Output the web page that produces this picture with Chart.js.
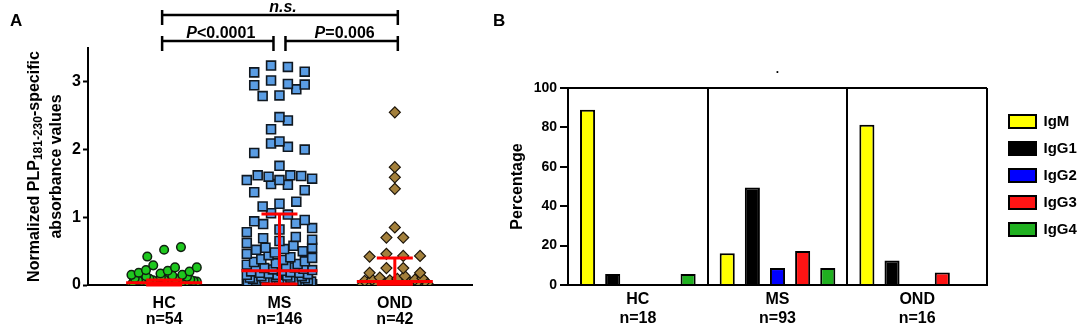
<!DOCTYPE html>
<html>
<head>
<meta charset="utf-8">
<script src="https://cdn.jsdelivr.net/npm/chart.js@4.4.1/dist/chart.umd.min.js"></script>
<style>
  html, body { margin: 0; padding: 0; background: #fff; }
  #wrap { position: relative; width: 1084px; height: 329px; overflow: hidden; }
  #chartA { position: absolute; left: 0; top: 0; }
  #chartB { position: absolute; left: 480px; top: 0; }
</style>
</head>
<body>
<div id="wrap">
  <canvas id="chartA" width="480" height="329"></canvas>
  <canvas id="chartB" width="604" height="329"></canvas>
</div>
<script>
const FONT = 'Arial, "Liberation Sans", Helvetica, sans-serif';

// ---- Panel A: normalized PLP181-230 absorbance per subject ----
const GROUPS_A = ['HC', 'MS', 'OND'];
const COUNTS_A = [54, 146, 42];
const HC_VALUES = [
  0.56, 0.52, 0.42, 0.29, 0.26, 0.26, 0.22, 0.21, 0.20, 0.18, 0.17, 0.15, 0.15, 0.14, 0.13, 0.12,
  0.11, 0.10, 0.09, 0.09, 0.08, 0.08, 0.07, 0.07, 0.07, 0.06, 0.06,
  0.06, 0.05, 0.05, 0.05, 0.05, 0.04, 0.04, 0.04, 0.04, 0.03,
  0.03, 0.03, 0.03, 0.03, 0.02, 0.02, 0.02, 0.02, 0.02, 0.01,
  0.01, 0.01, 0.01, 0.01, 0.00, 0.00, 0.00,
];
const MS_VALUES = [
  3.24, 3.22, 3.15, 3.14, 3.02, 2.97, 2.96, 2.95, 2.89, 2.80,
  2.79, 2.48, 2.43, 2.30, 2.12, 2.09, 2.04, 2.00, 1.95, 1.76,
  1.62, 1.62, 1.61, 1.60, 1.57, 1.55, 1.55, 1.49, 1.48, 1.40,
  1.37, 1.23, 1.20, 1.16, 1.06, 1.04,
  0.96, 0.94, 0.91, 0.90, 0.84, 0.82, 0.78, 0.71, 0.69, 0.67,
  0.65, 0.62, 0.58, 0.55, 0.55, 0.53, 0.52, 0.50, 0.48, 0.46,
  0.44, 0.41, 0.40, 0.38, 0.37, 0.35, 0.34, 0.32, 0.31, 0.30,
  0.28, 0.27, 0.26, 0.25, 0.24, 0.23, 0.22,
  0.21, 0.20, 0.19, 0.18, 0.18, 0.17, 0.16, 0.15, 0.15, 0.14,
  0.13, 0.13, 0.12, 0.11, 0.11, 0.10, 0.10, 0.09, 0.09, 0.08,
  0.08, 0.07, 0.07, 0.06, 0.06, 0.05, 0.05, 0.05, 0.04, 0.04,
  0.04, 0.03, 0.03, 0.03, 0.03, 0.02, 0.02,
  0.02, 0.02, 0.02, 0.02, 0.02, 0.02, 0.01, 0.01, 0.01, 0.01,
  0.01, 0.01, 0.01, 0.01, 0.01, 0.01, 0.01, 0.01, 0.01, 0.01,
  0.00, 0.00, 0.00, 0.00, 0.00, 0.00, 0.00, 0.00, 0.00, 0.00,
  0.00, 0.00, 0.00, 0.00, 0.00, 0.00,
];
const OND_VALUES = [
  2.55, 1.74, 1.59, 1.42, 0.85, 0.70, 0.70, 0.46, 0.43, 0.43, 0.42,
  0.25, 0.25, 0.18, 0.18, 0.13,
  0.11, 0.10, 0.09, 0.08, 0.08, 0.07, 0.06, 0.06, 0.05, 0.05, 0.05, 0.04, 0.04,
  0.03, 0.03, 0.03, 0.02, 0.02, 0.02, 0.01, 0.01, 0.01, 0.00, 0.00, 0.00, 0.00,
];
// median with interquartile range (red bars)
const MEDIAN_A = [0.034, 0.21, 0.05];
const Q1_A = [0.0, 0.015, 0.01];
const Q3_A = [0.074, 1.05, 0.40];
const Y_TICKS_A = [0, 1, 2, 3];
const Y_TITLE_A = ['Normalized PLP', '181-230', '-specific'];
const Y_TITLE_A2 = 'absorbance values';
// significance brackets
const BRACKET_FROM = [1, 1, 2];
const BRACKET_TO = [3, 2, 3];
const BRACKET_LEVEL = [1, 0, 0];
const BRACKET_LABELS = ['n.s.', 'P<0.0001', 'P=0.006'];
const BRACKET_ITALIC = [4, 1, 1];

// ---- Panel B: isotype distribution (%) ----
const GROUPS_B = ['HC', 'MS', 'OND'];
const COUNTS_B = [18, 93, 16];
const ISOTYPES = ['IgM', 'IgG1', 'IgG2', 'IgG3', 'IgG4'];
const IGM = [88.9, 16.1, 81.3];
const IGG1 = [5.6, 49.5, 12.5];
const IGG2 = [0, 8.6, 0];
const IGG3 = [0, 17.2, 6.3];
const IGG4 = [5.6, 8.6, 0];
const ISOTYPE_COLOURS = ['#ffff00', '#000000', '#0000ff', '#ff1414', '#20b020'];

// plot box of panel A (canvas px), used for layout and for the dot spreading
const A_LEFT = 88, A_RIGHT = 476, A_TOP = 48, A_BOTTOM = 285;
const X_MIN_A = 0.34, X_MAX_A = 3.67, Y_MAX_A = 3.5;
const PX_PER_X = (A_RIGHT - A_LEFT) / (X_MAX_A - X_MIN_A);
const PX_PER_Y = (A_BOTTOM - A_TOP) / Y_MAX_A;
const SWARM_GAP = 17, SWARM_HALF = 33;

Chart.defaults.font.family = FONT;
Chart.defaults.color = '#000';

function gcd(a, b) { return b ? gcd(b, a % b) : a; }

// Prism-like dot spread: values close in y share a row, row spread around the group centre
function swarm(values, group, size) {
  const rowH = size / PX_PER_Y;
  const sorted = [...values].sort((a, b) => a - b);
  const rows = [];
  for (const v of sorted) {
    const row = rows[rows.length - 1];
    if (row && v - row[0] <= rowH) row.push(v); else rows.push([v]);
  }
  const pts = [];
  for (const row of rows) {
    const n = row.length;
    const gap = n > 1 ? Math.min(SWARM_GAP, 2 * SWARM_HALF / (n - 1)) : 0;
    let k = Math.max(1, Math.round(n * 0.382));
    while (gcd(k, n) !== 1) k++;
    row.forEach((v, i) => {
      const slot = (i * k) % n;
      pts.push({ x: group + ((slot - (n - 1) / 2) * gap) / PX_PER_X, y: v });
    });
  }
  return pts;
}

const panelA = {
  id: 'panelA',
  afterDatasetsDraw(chart) {
    const { ctx, scales: { x, y } } = chart;
    ctx.save();
    ctx.strokeStyle = '#ff0000';
    ctx.lineWidth = 3;
    const hline = (cx, v, half) => {
      const py = y.getPixelForValue(v);
      ctx.beginPath(); ctx.moveTo(cx - half, py); ctx.lineTo(cx + half, py); ctx.stroke();
    };
    GROUPS_A.forEach((g, i) => {
      const cx = x.getPixelForValue(i + 1);
      hline(cx, Q1_A[i], 18);
      hline(cx, Q3_A[i], 18);
      hline(cx, MEDIAN_A[i], 38);
      ctx.beginPath();
      ctx.moveTo(cx, y.getPixelForValue(Q1_A[i]));
      ctx.lineTo(cx, y.getPixelForValue(Q3_A[i]));
      ctx.stroke();
    });
    ctx.restore();
  },
  afterDraw(chart) {
    const { ctx, chartArea: area, scales: { x } } = chart;
    ctx.save();
    ctx.fillStyle = '#000';
    // panel letter
    ctx.font = `bold 17px ${FONT}`;
    ctx.textBaseline = 'middle';
    ctx.textAlign = 'left';
    ctx.fillText('A', 10, 21);

    // y title, two lines, with subscript
    const cy = (area.top + area.bottom) / 2;
    const big = `bold 16px ${FONT}`, small = `bold 12px ${FONT}`;
    const fonts = [big, small, big];
    const shifts = [0, 4, 0];
    ctx.translate(35, cy);
    ctx.rotate(-Math.PI / 2);
    let total = 0;
    Y_TITLE_A.forEach((t, i) => { ctx.font = fonts[i]; total += ctx.measureText(t).width; });
    let tx = -total / 2;
    Y_TITLE_A.forEach((t, i) => {
      ctx.font = fonts[i];
      ctx.fillText(t, tx, shifts[i]);
      tx += ctx.measureText(t).width;
    });
    ctx.font = big;
    ctx.textAlign = 'center';
    ctx.fillText(Y_TITLE_A2, 0, 22);
    ctx.setTransform(1, 0, 0, 1, 0, 0);

    // significance brackets
    ctx.strokeStyle = '#000';
    ctx.lineWidth = 2.5;
    BRACKET_LABELS.forEach((label, i) => {
      const lvl = BRACKET_LEVEL[i];
      const shared = (v) => BRACKET_LEVEL.some((l, j) => j !== i && l === lvl &&
        (BRACKET_FROM[j] === v || BRACKET_TO[j] === v));
      const x0 = x.getPixelForValue(BRACKET_FROM[i]) + (shared(BRACKET_FROM[i]) ? 6 : -2);
      const x1 = x.getPixelForValue(BRACKET_TO[i]) - (shared(BRACKET_TO[i]) ? 6 : -3);
      const py = area.top - 7 - lvl * 26;
      ctx.beginPath();
      ctx.moveTo(x0, py); ctx.lineTo(x1, py);
      ctx.moveTo(x0, py - 5); ctx.lineTo(x0, py + 10);
      ctx.moveTo(x1, py - 5); ctx.lineTo(x1, py + 10);
      ctx.stroke();
      const it = label.slice(0, BRACKET_ITALIC[i]);
      const rest = label.slice(BRACKET_ITALIC[i]);
      const fIt = `italic bold 16px ${FONT}`, fRg = `bold 16px ${FONT}`;
      ctx.font = fIt; const wIt = ctx.measureText(it).width;
      ctx.font = fRg; const wRg = ctx.measureText(rest).width;
      const lx = (x0 + x1) / 2 + 3 - (wIt + wRg) / 2;
      ctx.textAlign = 'left';
      ctx.textBaseline = 'middle';
      ctx.font = fIt; ctx.fillText(it, lx, py - 7);
      ctx.font = fRg; ctx.fillText(rest, lx + wIt, py - 7);
    });
    ctx.restore();
  },
};

new Chart(document.getElementById('chartA'), {
  type: 'scatter',
  data: {
    datasets: [
      { label: 'HC', data: swarm(HC_VALUES, 1, 10), pointStyle: 'circle', pointRadius: 4.3,
        pointHoverRadius: 4.3, borderWidth: 1.5, backgroundColor: '#1ec81e', borderColor: '#102010' },
      { label: 'MS', data: swarm(MS_VALUES, 2, 10), pointStyle: 'rect', pointRadius: 6.3,
        pointHoverRadius: 6.3, borderWidth: 1.6, backgroundColor: '#5a9de4', borderColor: '#101820' },
      { label: 'OND', data: swarm(OND_VALUES, 3, 10), pointStyle: 'rectRot', pointRadius: 5.5,
        pointHoverRadius: 5.5, borderWidth: 1.2, backgroundColor: '#a3803c', borderColor: '#1c1408' },
    ],
  },
  options: {
    responsive: false,
    animation: false,
    layout: { padding: { top: A_TOP, right: 480 - A_RIGHT, left: 0, bottom: 0 } },
    plugins: { legend: { display: false }, tooltip: { enabled: false } },
    scales: {
      x: {
        type: 'linear',
        min: X_MIN_A,
        max: X_MAX_A,
        afterBuildTicks: (s) => { s.ticks = GROUPS_A.map((g, i) => ({ value: i + 1 })); },
        afterFit: (s) => { s.height = 329 - A_BOTTOM; },
        ticks: {
          autoSkip: false,
          maxRotation: 0,
          padding: 11,
          font: { size: 16, weight: 'bold', lineHeight: 1.0 },
          callback: (v) => {
            const i = Math.round(v) - 1;
            return [GROUPS_A[i], 'n=' + COUNTS_A[i]];
          },
        },
        grid: { display: false, drawTicks: false },
        border: { color: '#000', width: 2 },
      },
      y: {
        min: 0,
        max: Y_MAX_A,
        afterBuildTicks: (s) => { s.ticks = Y_TICKS_A.map(v => ({ value: v })); },
        afterFit: (s) => { s.width = A_LEFT; },
        ticks: { padding: 2, font: { size: 16, weight: 'bold' } },
        grid: { drawOnChartArea: false, tickLength: 5, tickColor: '#000', tickWidth: 2 },
        border: { color: '#000', width: 2 },
      },
    },
  },
  plugins: [panelA],
});

// ---- Panel B ----
const B_LEFT = 88, B_RIGHT = 507, B_BOTTOM = 285;
const LEGEND_W_B = 604 - B_RIGHT;

const panelB = {
  id: 'panelB',
  beforeLayout(chart) {
    const lg = chart.legend;
    if (lg && !lg.fixedWidth) {
      const fit = lg.fit.bind(lg);
      lg.fit = () => { fit(); lg.width = LEGEND_W_B; };
      lg.fixedWidth = true;
    }
  },
  afterLayout(chart) {
    chart.legend.left = chart.chartArea.right + 10;
    chart.legend.top = 102;
  },
  afterDraw(chart) {
    const { ctx } = chart;
    ctx.save();
    ctx.fillStyle = '#000';
    ctx.font = `bold 17px ${FONT}`;
    ctx.textBaseline = 'middle';
    ctx.textAlign = 'left';
    ctx.fillText('B', 13, 21);
    ctx.restore();
  },
};

new Chart(document.getElementById('chartB'), {
  type: 'bar',
  data: {
    labels: GROUPS_B.map((g, i) => [g, 'n=' + COUNTS_B[i]]),
    datasets: [IGM, IGG1, IGG2, IGG3, IGG4].map((vals, k) => ({
      label: ISOTYPES[k],
      data: vals,
      backgroundColor: ISOTYPE_COLOURS[k],
      borderColor: '#000',
      borderWidth: 2,
      categoryPercentage: 0.9,
      barPercentage: 0.6,
    })),
  },
  options: {
    responsive: false,
    animation: false,
    layout: { padding: 0 },
    plugins: {
      tooltip: { enabled: false },
      title: {
        display: true,
        fullSize: false,
        text: '.',
        font: { size: 12, weight: 'bold', lineHeight: 1.2 },
        padding: { top: 62, bottom: 11.6 },
      },
      legend: {
        position: 'right',
        align: 'start',
        labels: {
          boxWidth: 27,
          boxHeight: 13,
          padding: 12,
          color: '#000',
          font: { size: 15, weight: 'bold' },
        },
      },
    },
    scales: {
      x: {
        afterFit: (s) => { s.height = 329 - B_BOTTOM; },
        ticks: { padding: 5, maxRotation: 0, autoSkip: false, font: { size: 16, weight: 'bold', lineHeight: 1.19 } },
        grid: { offset: true, color: '#000', lineWidth: 2, drawTicks: false },
        border: { color: '#000', width: 2 },
      },
      y: {
        min: 0,
        max: 100,
        afterFit: (s) => { s.width = B_LEFT; },
        ticks: { stepSize: 20, padding: 3, font: { size: 14, weight: 'bold' } },
        grid: {
          color: (c) => (c.tick && c.tick.value === 100 ? '#000' : 'rgba(0,0,0,0)'),
          lineWidth: 2,
          tickColor: '#000',
          tickWidth: 2,
          tickLength: 8,
        },
        border: { color: '#000', width: 2 },
        title: { display: true, text: 'Percentage', padding: { top: 28 }, font: { size: 16, weight: 'bold' } },
      },
    },
  },
  plugins: [panelB],
});
</script>
</body>
</html>
